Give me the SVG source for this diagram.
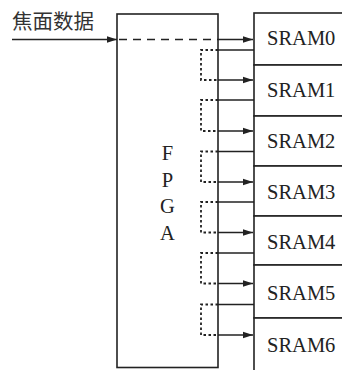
<svg xmlns="http://www.w3.org/2000/svg" width="342" height="370" viewBox="0 0 342 370">
<style>
.box{fill:#fff;stroke:#222;stroke-width:1.6}
.ln{fill:none;stroke:#222;stroke-width:1.6}
.dash{fill:none;stroke:#222;stroke-width:1.6;stroke-dasharray:8 6}
.dot{fill:none;stroke:#222;stroke-width:1.8;stroke-dasharray:2.5 2.5}
.t{font-family:"Liberation Serif","Times New Roman",serif;font-size:20.5px;fill:#222}
.cn{font-family:"Noto Sans CJK SC","Noto Sans",sans-serif;font-size:20.5px;fill:#333}
</style>
<defs>
<marker id="ah" markerWidth="11" markerHeight="8" refX="10" refY="4" orient="auto" markerUnits="userSpaceOnUse">
<path d="M0,0.7 L10,4 L0,7.3 Z" fill="#222"/>
</marker>
</defs>
<rect width="342" height="370" fill="#fff"/>
<text class="cn" x="12" y="28.5">焦面数据</text>
<g id="fpga">
<rect class="box" x="117" y="14" width="101" height="353.5"/>
<text class="t" x="167.5" y="160" text-anchor="middle">F</text>
<text class="t" x="167.5" y="186.5" text-anchor="middle">P</text>
<text class="t" x="167.5" y="213" text-anchor="middle">G</text>
<text class="t" x="167.5" y="239.5" text-anchor="middle">A</text>
</g>
<g id="sram0"><rect class="box" x="254" y="13" width="100" height="52"/><text class="t" x="267" y="45">SRAM0</text></g>
<g id="sram1"><rect class="box" x="254" y="65" width="100" height="51"/><text class="t" x="267" y="97">SRAM1</text></g>
<g id="sram2"><rect class="box" x="254" y="116" width="100" height="50"/><text class="t" x="267" y="148">SRAM2</text></g>
<g id="sram3"><rect class="box" x="254" y="166" width="100" height="50"/><text class="t" x="267" y="198.5">SRAM3</text></g>
<g id="sram4"><rect class="box" x="254" y="216" width="100" height="49"/><text class="t" x="267" y="248.5">SRAM4</text></g>
<g id="sram5"><rect class="box" x="254" y="265" width="100" height="53"/><text class="t" x="267" y="300">SRAM5</text></g>
<g id="sram6"><rect class="box" x="254" y="318" width="100" height="60"/><text class="t" x="267" y="352">SRAM6</text></g>
<g id="connectors">
<line class="ln" x1="12" y1="39.5" x2="117" y2="39.5" marker-end="url(#ah)"/>
<line class="dash" x1="119" y1="39.5" x2="218" y2="39.5"/>
<line class="ln" x1="218" y1="39.5" x2="253" y2="39.5" marker-end="url(#ah)"/>
<g id="loop1"><line class="ln" x1="254" y1="50" x2="218" y2="50"/><polyline class="dot" points="218,50 201,50 201,80 218,80"/><line class="ln" x1="218" y1="80" x2="253" y2="80" marker-end="url(#ah)"/></g>
<g id="loop2"><line class="ln" x1="254" y1="100" x2="218" y2="100"/><polyline class="dot" points="218,100 201,100 201,131 218,131"/><line class="ln" x1="218" y1="131" x2="253" y2="131" marker-end="url(#ah)"/></g>
<g id="loop3"><line class="ln" x1="254" y1="151.5" x2="218" y2="151.5"/><polyline class="dot" points="218,151.5 201,151.5 201,182 218,182"/><line class="ln" x1="218" y1="182" x2="253" y2="182" marker-end="url(#ah)"/></g>
<g id="loop4"><line class="ln" x1="254" y1="202" x2="218" y2="202"/><polyline class="dot" points="218,202 201,202 201,232.5 218,232.5"/><line class="ln" x1="218" y1="232.5" x2="253" y2="232.5" marker-end="url(#ah)"/></g>
<g id="loop5"><line class="ln" x1="254" y1="253" x2="218" y2="253"/><polyline class="dot" points="218,253 201,253 201,283.5 218,283.5"/><line class="ln" x1="218" y1="283.5" x2="253" y2="283.5" marker-end="url(#ah)"/></g>
<g id="loop6"><line class="ln" x1="254" y1="304.5" x2="218" y2="304.5"/><polyline class="dot" points="218,304.5 201,304.5 201,335 218,335"/><line class="ln" x1="218" y1="335" x2="253" y2="335" marker-end="url(#ah)"/></g>
</g>
</svg>
